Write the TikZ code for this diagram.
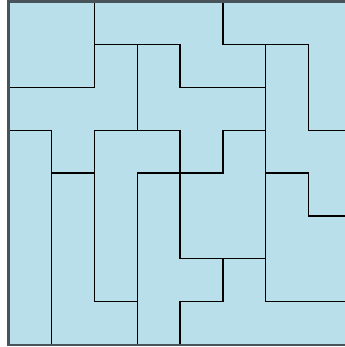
\documentclass[tikz,border=0pt]{standalone}
\usepackage{tikz}

\definecolor{tilefill}{RGB}{185,223,234}
\definecolor{rimgray}{RGB}{72,84,90}

\begin{document}
\begin{tikzpicture}[
    x=1cm, y=1cm,
    line join=miter,
    piece/.style={
        fill=tilefill,
        draw=black,
        line width=0.8pt
    },
    rim/.style={
        draw=rimgray,
        line width=1.4pt
    }
]
\useasboundingbox (-0.198,-0.054) rectangle (7.844,8.035);
\clip (-0.198,-0.054) rectangle (7.844,8.035);

% top row
\filldraw[piece] (0,8) -- (2,8) -- (2,6) -- (0,6) -- cycle;
\filldraw[piece] (2,8) -- (5,8) -- (5,7) -- (6,7) -- (6,6) -- (4,6) -- (4,7) -- (2,7) -- cycle;
\filldraw[piece] (5,8) -- (8,8) -- (8,5) -- (7,5) -- (7,7) -- (5,7) -- cycle;
% middle
\filldraw[piece] (2,7) -- (3,7) -- (3,5) -- (2,5) -- (2,4) -- (1,4) -- (1,5) -- (0,5) -- (0,6) -- (2,6) -- cycle;
\filldraw[piece] (3,7) -- (4,7) -- (4,6) -- (6,6) -- (6,5) -- (5,5) -- (5,4) -- (4,4) -- (4,5) -- (3,5) -- cycle;
\filldraw[piece] (6,7) -- (7,7) -- (7,5) -- (8,5) -- (8,3) -- (7,3) -- (7,4) -- (6,4) -- cycle;
\filldraw[piece] (5,5) -- (6,5) -- (6,2) -- (4,2) -- (4,4) -- (5,4) -- cycle;
\filldraw[piece] (2,5) -- (4,5) -- (4,4) -- (3,4) -- (3,1) -- (2,1) -- cycle;
% bottom
\filldraw[piece] (0,5) -- (1,5) -- (1,0) -- (0,0) -- cycle;
\filldraw[piece] (1,4) -- (2,4) -- (2,1) -- (3,1) -- (3,0) -- (1,0) -- cycle;
\filldraw[piece] (3,4) -- (4,4) -- (4,2) -- (5,2) -- (5,1) -- (4,1) -- (4,0) -- (3,0) -- cycle;
\filldraw[piece] (6,4) -- (7,4) -- (7,3) -- (8,3) -- (8,1) -- (6,1) -- cycle;
\filldraw[piece] (5,2) -- (6,2) -- (6,1) -- (8,1) -- (8,0) -- (4,0) -- (4,1) -- (5,1) -- cycle;

% board edge
\draw[rim] (0,0) rectangle (8,8);
\end{tikzpicture}
\end{document}
